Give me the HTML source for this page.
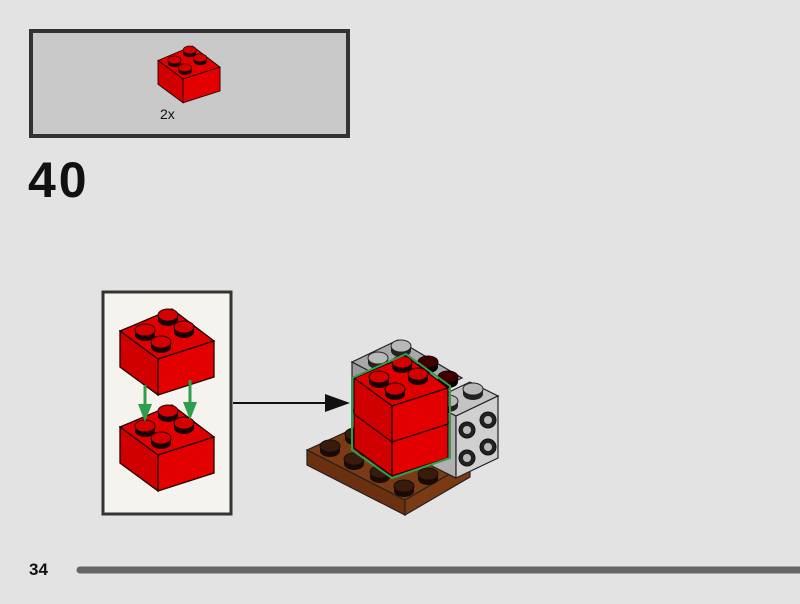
<!DOCTYPE html>
<html><head><meta charset="utf-8"><style>
html,body{margin:0;padding:0;background:#e3e3e3;}
body{width:800px;height:604px;position:relative;overflow:hidden;font-family:"Liberation Sans",sans-serif;}
</style></head><body>
<svg width="800" height="604" viewBox="0 0 800 604" xmlns="http://www.w3.org/2000/svg" style="position:absolute;left:0;top:0">
<defs>
<g id="stud">
 <path d="M-10,0 L-10,5 A10,6 0 0 0 10,5 L10,0 Z" fill="#1a0000"/>
 <ellipse cx="0" cy="0" rx="10" ry="6" fill="#d40000" stroke="#200" stroke-width="1"/>
</g>
<g id="brick">
 <polygon points="0,22 52,0 94,32 38,50" fill="#e00000" stroke="#200" stroke-width="1.3"/>
 <polygon points="0,22 38,50 38,86 0,58" fill="#d00000" stroke="#200" stroke-width="1.3"/>
 <polygon points="38,50 94,32 94,68 38,86" fill="#e20000" stroke="#200" stroke-width="1.3"/>
 <use href="#stud" x="48" y="6"/>
 <use href="#stud" x="25" y="21"/>
 <use href="#stud" x="64" y="18"/>
 <use href="#stud" x="41" y="33"/>
</g>
<g id="gstud">
 <path d="M-10,0 L-10,5 A10,6 0 0 0 10,5 L10,0 Z" fill="#222"/>
 <ellipse cx="0" cy="0" rx="10" ry="6" fill="#b8b8b8" stroke="#222" stroke-width="1"/>
</g>
<g id="bstud">
 <path d="M-10,0 L-10,5 A10,6 0 0 0 10,5 L10,0 Z" fill="#1a0a00"/>
 <ellipse cx="0" cy="0" rx="10" ry="6" fill="#3a1a0a" stroke="#111" stroke-width="1"/>
</g>
</defs>

<!-- parts box -->
<rect x="31" y="31" width="317" height="105" fill="#c9c9c9" stroke="#333" stroke-width="4"/>
<g transform="translate(158,46) scale(0.66)"><use href="#brick"/></g>
<text x="160" y="119" font-size="14" fill="#111">2x</text>

<text x="28" y="197" font-size="50" font-weight="bold" fill="#111" letter-spacing="3">40</text>

<!-- sub-step panel -->
<rect x="103" y="292" width="128" height="222" fill="#f4f3ee" stroke="#333" stroke-width="3"/>
<g transform="translate(120,309)"><use href="#brick"/></g>
<g transform="translate(120,405)"><use href="#brick"/></g>
<g stroke="#2e9e4e" stroke-width="3" fill="#2e9e4e">
 <line x1="145" y1="385" x2="145" y2="410"/>
 <polygon points="138,404 152,404 145,422" stroke="none"/>
 <line x1="190" y1="380" x2="190" y2="408"/>
 <polygon points="183,402 197,402 190,420" stroke="none"/>
</g>

<!-- arrow -->
<line x1="233" y1="403" x2="330" y2="403" stroke="#111" stroke-width="2"/>
<polygon points="325,394 350,403 325,412" fill="#111"/>

<!-- assembly: brown plate -->
<polygon points="307,450 372,420 470,462 405,500" fill="#7a3a14" stroke="#222" stroke-width="1.2"/>
<polygon points="307,450 405,500 405,515 307,465" fill="#6a3010" stroke="#222" stroke-width="1.2"/>
<polygon points="405,500 470,462 470,477 405,515" fill="#7a3a14" stroke="#222" stroke-width="1.2"/>
<use href="#bstud" x="330" y="446"/>
<use href="#bstud" x="354" y="459"/>
<use href="#bstud" x="380" y="472"/>
<use href="#bstud" x="404" y="486"/>
<use href="#bstud" x="428" y="474"/>
<use href="#bstud" x="355" y="434"/>

<!-- back grey brick -->
<polygon points="352,362 398,340 462,378 420,398" fill="#a8a8a8" stroke="#222" stroke-width="1.2"/>
<polygon points="352,362 420,398 420,420 352,410" fill="#9a9a9a" stroke="#222" stroke-width="1.2"/>
<use href="#gstud" x="378" y="358"/>
<use href="#gstud" x="401" y="346"/>
<use href="#stud" x="428" y="362" style="filter:brightness(0.3)"/>
<use href="#stud" x="448" y="377" style="filter:brightness(0.3)"/>

<!-- right grey brick -->
<polygon points="428,402 470,382 498,396 456,416" fill="#c4c4c4" stroke="#222" stroke-width="1.2"/>
<polygon points="428,402 456,416 456,478 428,464" fill="#b0b0b0" stroke="#222" stroke-width="1.2"/>
<polygon points="456,416 498,396 498,458 456,478" fill="#d0d0d0" stroke="#222" stroke-width="1.2"/>
<use href="#gstud" x="448" y="401"/>
<use href="#gstud" x="473" y="389"/>
<g fill="#222" stroke="#111">
 <circle cx="467" cy="430" r="8"/><circle cx="488" cy="420" r="8"/>
 <circle cx="467" cy="458" r="8"/><circle cx="488" cy="447" r="8"/>
</g>
<g fill="#bbb"><circle cx="467" cy="430" r="4"/><circle cx="488" cy="420" r="4"/><circle cx="467" cy="458" r="4"/><circle cx="488" cy="447" r="4"/></g>

<!-- red stack -->
<g transform="translate(354,390)"><use href="#brick"/></g>
<g transform="translate(354,356)"><use href="#brick"/></g>
<polygon points="352,378 406,354 450,386 450,458 392,478 352,450" fill="none" stroke="#2e9e4e" stroke-width="2"/>

<!-- footer -->
<text x="29" y="575" font-size="17" font-weight="bold" fill="#111">34</text>
<line x1="80" y1="570" x2="800" y2="570" stroke="#666" stroke-width="7" stroke-linecap="round"/>
</svg>
</body></html>
